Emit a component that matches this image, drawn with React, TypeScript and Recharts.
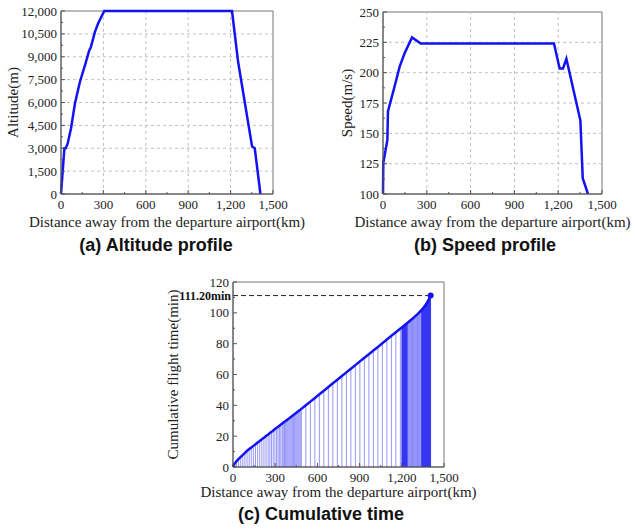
import React from 'react';
import {
  LineChart, ComposedChart, Line, Bar, XAxis, YAxis,
  ReferenceLine, ReferenceArea, ReferenceDot, Label,
} from 'recharts';

// (a) altitude profile
const altDistKm = [0, 24, 33, 47, 71, 99, 134, 170, 200, 210, 240, 264, 306, 1210, 1253, 1352, 1371, 1411];
const altitudeM = [0, 3000, 3000, 3300, 4312, 5946, 7362, 8451, 9431, 9583, 10629, 11217, 12000, 12000, 8668, 3115, 3000, 0];

// (b) speed profile
const spdDistKm = [0, 2, 30, 34, 80, 114, 148, 199, 258, 1171, 1210, 1233, 1256, 1352, 1368, 1404];
const speedMs = [100, 125.5, 144.6, 168, 189, 205, 216, 229, 224, 224, 203.5, 203.5, 211.4, 160.5, 113, 100];

// (c) cumulative time, one drop line per point
const cumDistKm = [
  0, 5, 12, 24, 40, 55, 70, 85, 100, 115, 130, 145, 160, 175, 190, 205, 220, 235, 250,
  262, 274, 286, 298, 310, 320, 330, 340, 350, 358, 366, 374, 382, 390, 398, 406, 414,
  422, 430, 438, 446, 454, 462, 470, 478, 486,
  518, 550, 582, 614, 646, 678, 710, 742, 774, 806, 838, 870, 902, 934, 966, 998, 1030,
  1062, 1094, 1126, 1158, 1190,
  1200, 1202, 1204, 1206, 1208, 1210, 1212, 1214, 1216, 1218, 1220, 1222, 1224, 1226,
  1228, 1230, 1232, 1234, 1236, 1238, 1240,
  1246, 1252, 1258, 1264, 1270, 1276, 1282, 1288, 1294, 1300, 1306, 1312, 1318, 1324, 1330, 1336,
  1340, 1342, 1344, 1346, 1348, 1350, 1352, 1354, 1356, 1358, 1360, 1362, 1364, 1366, 1368,
  1370, 1372, 1374, 1376, 1378, 1380, 1382, 1384, 1386, 1388, 1390, 1392, 1394, 1396, 1398,
  1400, 1402, 1404, 1405,
];
const cumTimeMin = [
  0, 1.2, 2.2, 3.7, 5.2, 6.6, 7.9, 9.2, 10.5, 11.6, 12.6, 13.7, 14.8, 15.9, 16.9, 18.0, 19.0, 20.1, 21.1,
  22.0, 22.8, 23.7, 24.6, 25.4, 26.1, 26.8, 27.5, 28.2, 28.8, 29.3, 29.9, 30.4, 31.0, 31.5, 32.1, 32.6,
  33.2, 33.8, 34.3, 34.9, 35.5, 36.0, 36.6, 37.1, 37.7,
  40.1, 42.4, 44.8, 47.2, 49.5, 51.9, 54.3, 56.6, 59.0, 61.4, 63.7, 66.1, 68.5, 70.9, 73.2, 75.6, 77.9,
  80.3, 82.7, 85.1, 87.4, 89.8,
  90.5, 90.6, 90.8, 90.9, 91.1, 91.2, 91.4, 91.5, 91.7, 91.8, 92.0, 92.1, 92.3, 92.4,
  92.6, 92.7, 92.9, 93.0, 93.2, 93.3, 93.5,
  93.9, 94.4, 94.8, 95.3, 95.8, 96.2, 96.7, 97.2, 97.7, 98.2, 98.7, 99.2, 99.7, 100.2, 100.8, 101.4,
  101.8, 102.0, 102.2, 102.4, 102.6, 102.8, 103.0, 103.3, 103.5, 103.7, 104.0, 104.2, 104.5, 104.7, 105.0,
  105.3, 105.6, 105.9, 106.2, 106.5, 106.8, 107.1, 107.4, 107.7, 108.1, 108.4, 108.8, 109.1, 109.5, 109.9,
  110.3, 110.7, 111.0, 111.2,
];

const distTicks = [0, 150, 300, 450, 600, 750, 900, 1050, 1200, 1350, 1500];
const altTicks = [0, 750, 1500, 2250, 3000, 3750, 4500, 5250, 6000, 6750, 7500, 8250, 9000, 9750, 10500, 11250, 12000];
const speedTicks = [100, 112.5, 125, 137.5, 150, 162.5, 175, 187.5, 200, 212.5, 225, 237.5, 250];
const timeTicks = [0, 10, 20, 30, 40, 50, 60, 70, 80, 90, 100, 110, 120];

const BLUE = '#1212f2';
const AXIS = '#555';
const SERIF = '"Liberation Serif", "Times New Roman", serif';
const SANS = '"Liberation Sans", Arial, sans-serif';

const fmt = (v: number) => v.toLocaleString('en-US');

const xTick = (major: number) => (props: any) => {
  const { x, y, payload } = props;
  const v = payload.value;
  const isMajor = v % major === 0;
  return (
    <g>
      <line x1={x} y1={y} x2={x} y2={y - (isMajor ? 4 : 2)} stroke={AXIS} />
      {isMajor && (
        <text x={x} y={y + 15} textAnchor="middle" fontSize={13} fontFamily={SERIF} fill="#222">
          {fmt(v)}
        </text>
      )}
    </g>
  );
};

const yTick = (major: number) => (props: any) => {
  const { x, y, payload } = props;
  const v = payload.value;
  const isMajor = v % major === 0;
  return (
    <g>
      <line x1={x} y1={y} x2={x + (isMajor ? 4 : 2)} y2={y} stroke={AXIS} />
      {isMajor && (
        <text x={x - 4} y={y} dy="0.35em" textAnchor="end" fontSize={13} fontFamily={SERIF} fill="#222">
          {fmt(v)}
        </text>
      )}
    </g>
  );
};

// thin vertical drop line from a point down to the x axis
const DropLine = (p: any) => {
  const cx = p.x + p.width / 2;
  return <line x1={cx} x2={cx} y1={p.y} y2={p.y + p.height} stroke={BLUE} strokeWidth={1} strokeOpacity={0.44} />;
};

const xTitle = 'Distance away from the departure airport(km)';
const titleStyle = { fontFamily: SERIF, fontSize: 15, fill: '#222' };

const Caption = ({ text, cx, top }: { text: string; cx: number; top: number }) => (
  <div
    style={{
      position: 'absolute', left: cx - 150, top, width: 300, textAlign: 'center',
      fontFamily: SANS, fontWeight: 'bold', fontSize: 18, lineHeight: '18px', color: '#111',
    }}
  >
    {text}
  </div>
);

const App: React.FC = () => {
  const altData = altDistKm.map((d, i) => ({ d, v: altitudeM[i] }));
  const spdData = spdDistKm.map((d, i) => ({ d, v: speedMs[i] }));
  const cumData = cumDistKm.map((d, i) => ({ d, t: cumTimeMin[i] }));
  const lastD = cumDistKm[cumDistKm.length - 1];
  const lastT = cumTimeMin[cumTimeMin.length - 1];

  const grid = (xs: number[], ys: number[]) => [
    ...xs.map(x => <ReferenceLine key={'gx' + x} x={x} stroke="#c0c0c0" strokeDasharray="3 3" />),
    ...ys.map(y => <ReferenceLine key={'gy' + y} y={y} stroke="#c0c0c0" strokeDasharray="3 3" />),
  ];

  return (
    <div style={{ position: 'absolute', left: 0, top: 0, width: 635, height: 529, background: '#fff' }}>
      {/* (a) */}
      <div style={{ position: 'absolute', left: 0, top: 0 }}>
        <LineChart width={315} height={235} data={altData} margin={{ top: 11, right: 42, bottom: 0, left: 0 }}>
          <XAxis dataKey="d" type="number" domain={[0, 1500]} ticks={distTicks} interval={0}
            tickSize={0} tickMargin={0} tickLine={false} tick={xTick(300)} stroke={AXIS} height={41}>
            <Label value={xTitle} position="insideBottom" offset={8} style={titleStyle} />
          </XAxis>
          <YAxis type="number" domain={[0, 12000]} ticks={altTicks} interval={0}
            tickSize={0} tickMargin={0} tickLine={false} tick={yTick(1500)} stroke={AXIS} width={61}>
            <Label value="Altitude(m)" angle={-90} position="insideLeft" offset={13}
              style={{ ...titleStyle, textAnchor: 'middle' }} />
          </YAxis>
          {grid([300, 600, 900, 1200], [1500, 3000, 4500, 6000, 7500, 9000, 10500])}
          <ReferenceArea x1={0} x2={1500} y1={0} y2={12000} fill="none" stroke="#777" />
          <Line dataKey="v" type="linear" stroke={BLUE} strokeWidth={2.5} dot={false} isAnimationActive={false} />
        </LineChart>
      </div>

      {/* (b) */}
      <div style={{ position: 'absolute', left: 300, top: 0 }}>
        <LineChart width={335} height={235} data={spdData} margin={{ top: 12, right: 33, bottom: 0, left: 0 }}>
          <XAxis dataKey="d" type="number" domain={[0, 1500]} ticks={distTicks} interval={0}
            tickSize={0} tickMargin={0} tickLine={false} tick={xTick(300)} stroke={AXIS} height={41}>
            <Label value={xTitle} position="insideBottom" offset={8} style={titleStyle} />
          </XAxis>
          <YAxis type="number" domain={[100, 250]} ticks={speedTicks} interval={0}
            tickSize={0} tickMargin={0} tickLine={false} tick={yTick(25)} stroke={AXIS} width={83}>
            <Label value="Speed(m/s)" angle={-90} position="insideLeft" offset={47}
              style={{ ...titleStyle, textAnchor: 'middle' }} />
          </YAxis>
          {grid([300, 600, 900, 1200], [125, 150, 175, 200, 225])}
          <ReferenceArea x1={0} x2={1500} y1={100} y2={250} fill="none" stroke="#777" />
          <Line dataKey="v" type="linear" stroke={BLUE} strokeWidth={2.5} dot={false} isAnimationActive={false} />
        </LineChart>
      </div>

      {/* (c) */}
      <div style={{ position: 'absolute', left: 150, top: 270 }}>
        <ComposedChart width={340} height={255} data={cumData} margin={{ top: 12, right: 46, bottom: 0, left: 0 }}>
          <XAxis dataKey="d" type="number" domain={[0, 1500]} ticks={distTicks} interval={0}
            tickSize={0} tickMargin={0} tickLine={false} tick={xTick(300)} stroke={AXIS} height={58}>
            <Label value={xTitle} position="insideBottom" offset={28} style={titleStyle} />
          </XAxis>
          <YAxis type="number" domain={[0, 120]} ticks={timeTicks} interval={0}
            tickSize={0} tickMargin={0} tickLine={false} tick={yTick(20)} stroke={AXIS} width={83}>
            <Label value="Cumulative flight time(min)" angle={-90} position="insideLeft" offset={23}
              style={{ ...titleStyle, textAnchor: 'middle' }} />
          </YAxis>
          <ReferenceArea x1={0} x2={1500} y1={0} y2={120} fill="none" stroke="#777" />
          <Bar dataKey="t" barSize={1} fill={BLUE} shape={DropLine} isAnimationActive={false} />
          <ReferenceLine
            segment={[{ x: 0, y: lastT }, { x: lastD, y: lastT }]}
            stroke="#222" strokeDasharray="5 3"
            label={{ value: lastT.toFixed(2) + 'min', position: 'left', offset: 2,
              style: { fontFamily: SERIF, fontSize: 12, fontWeight: 'bold', fill: '#111' } }}
          />
          <Line dataKey="t" type="linear" stroke={BLUE} strokeWidth={2.5} dot={false} isAnimationActive={false} />
          <ReferenceDot x={lastD} y={lastT} r={3} fill={BLUE} stroke="none" />
        </ComposedChart>
      </div>

      <Caption text="(a) Altitude profile" cx={156} top={236} />
      <Caption text="(b) Speed profile" cx={485} top={236} />
      <Caption text="(c) Cumulative time" cx={321} top={505} />
    </div>
  );
};

export default App;
